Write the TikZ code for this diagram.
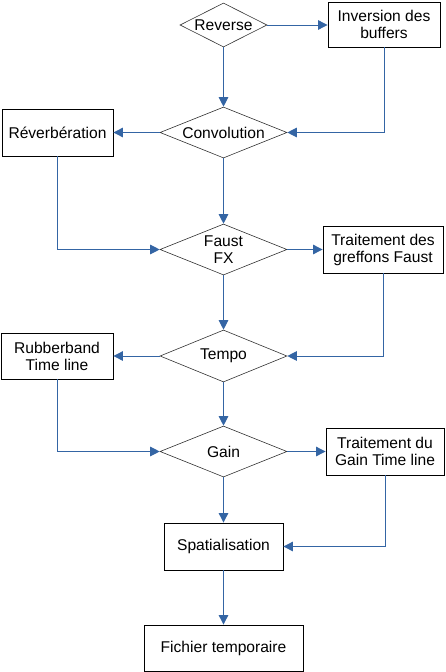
\documentclass[tikz,border=0pt]{standalone}
\usepackage{fontspec}
\setmainfont{Liberation Sans}
\usetikzlibrary{shapes.geometric,arrows.meta}
\definecolor{linkblue}{HTML}{3465A4}
\begin{document}
\begin{tikzpicture}[x=1pt, y=-1pt,
        font=\fontsize{15.6}{17}\selectfont,
        test/.style={diamond, draw=black!80, line width=0.6pt, inner sep=0pt, aspect=2.4},
        box/.style={rectangle, draw=black, line width=0.85pt, inner sep=0pt, align=center},
        link/.style={draw=linkblue, line width=1pt, -{Triangle[length=9.5pt, width=9.5pt]}}]
        \useasboundingbox (0,0) rectangle (445,672);
        \def\mid{223.5}
        % tests
        \node[test, minimum width=87pt, minimum height=44pt] (rev) at (\mid,25) {Reverse};
        \node[test, minimum width=127pt, minimum height=51pt] (conv) at (\mid,132.5) {Convolution};
        \node[test, minimum width=127pt, minimum height=51pt, align=center] (faust) at (\mid,249.5) {Faust\\FX};
        \node[test, minimum width=127pt, minimum height=52pt] (tempo) at (\mid,356) {Tempo};
        \node[test, minimum width=127pt, minimum height=51pt] (gain) at (\mid,451.5) {Gain};
        % boxes
        \node[box, minimum width=112pt, minimum height=45pt] (inv) at (384,24.5) {Inversion des\\buffers};
        \node[box, minimum width=111pt, minimum height=47pt] (reverb) at (57.5,132.5) {Réverbération};
        \node[box, minimum width=120pt, minimum height=47pt] (greff) at (383,249.5) {Traitement des\\greffons Faust};
        \node[box, minimum width=112pt, minimum height=46pt] (rubber) at (57,356) {Rubberband\\Time line};
        \node[box, minimum width=118pt, minimum height=47pt] (gainbox) at (385,451.5) {Traitement du\\Gain Time line};
        \node[box, minimum width=119pt, minimum height=47pt] (spat) at (\mid,546.5) {Spatialisation};
        \node[box, minimum width=159pt, minimum height=46pt] (fich) at (\mid,648) {Fichier temporaire};
        % main line
        \draw[link] (rev) -- (conv);
        \draw[link] (conv) -- (faust);
        \draw[link] (faust) -- (tempo);
        \draw[link] (tempo) -- (gain);
        \draw[link] (gain) -- (spat);
        \draw[link] (spat) -- (fich);
        % side branches
        \draw[link] (rev.east) -- (rev.east -| inv.west);
        \draw[link] (inv.south) |- (conv.east);
        \draw[link] (conv.west) -- (reverb.east);
        \draw[link] (reverb.south) |- (faust.west);
        \draw[link] (faust.east) -- (greff.west);
        \draw[link] (greff.south) |- (tempo.east);
        \draw[link] (tempo.west) -- (rubber.east);
        \draw[link] (rubber.south) |- (gain.west);
        \draw[link] (gain.east) -- (gainbox.west);
        \draw[link] (gainbox.south) |- (spat.east);
\end{tikzpicture}
\end{document}
